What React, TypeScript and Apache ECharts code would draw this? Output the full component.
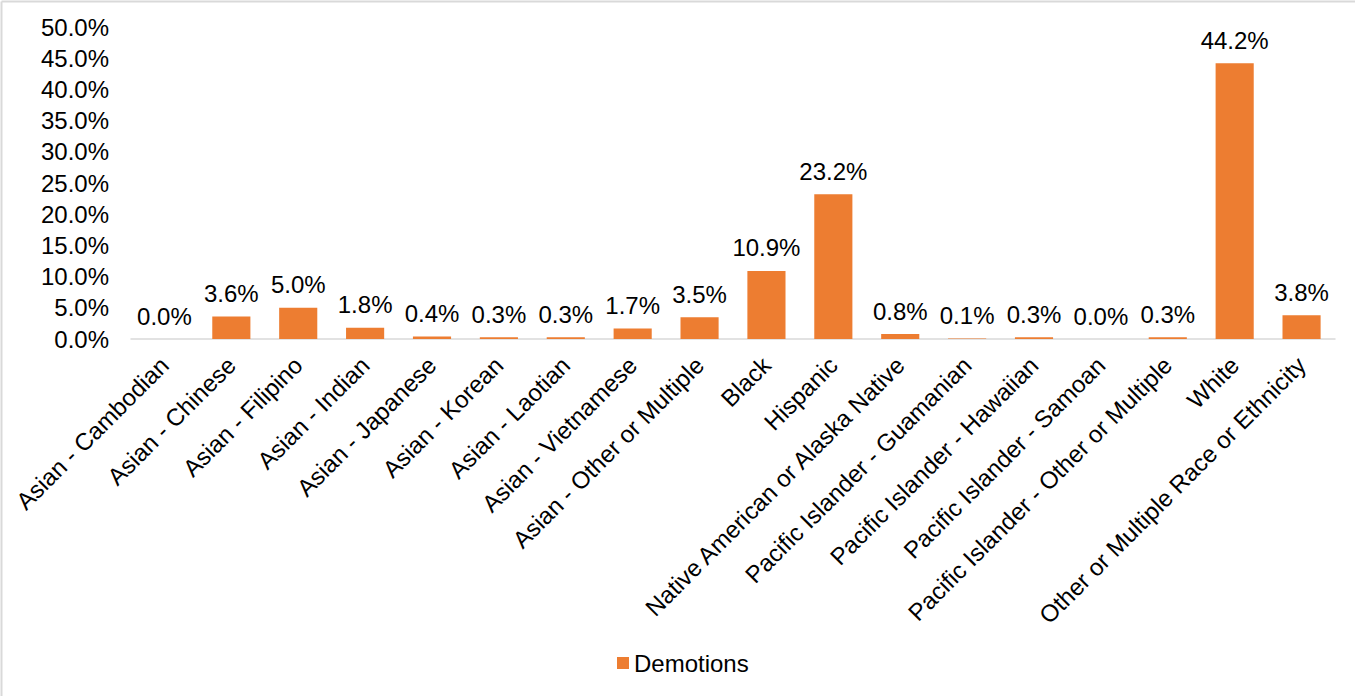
import React, { useEffect, useRef } from "react";
import * as echarts from "echarts";

const categories = [
  "Asian - Cambodian",
  "Asian - Chinese",
  "Asian - Filipino",
  "Asian - Indian",
  "Asian - Japanese",
  "Asian - Korean",
  "Asian - Laotian",
  "Asian - Vietnamese",
  "Asian - Other or Multiple",
  "Black",
  "Hispanic",
  "Native American or Alaska Native",
  "Pacific Islander - Guamanian",
  "Pacific Islander - Hawaiian",
  "Pacific Islander - Samoan",
  "Pacific Islander - Other or Multiple",
  "White",
  "Other or Multiple Race or Ethnicity",
];

const demotions = [0.0, 3.6, 5.0, 1.8, 0.4, 0.3, 0.3, 1.7, 3.5, 10.9, 23.2, 0.8, 0.1, 0.3, 0.0, 0.3, 44.2, 3.8];

const seriesName = "Demotions";
const FONT = "'Liberation Sans', Arial, sans-serif";

export default function App() {
  const ref = useRef<HTMLDivElement>(null);
  useEffect(() => {
    if (!ref.current) return;
    const chart = echarts.init(ref.current, null, { renderer: "svg" });
    chart.setOption({
      animation: false,
      backgroundColor: "#ffffff",
      textStyle: { fontFamily: FONT },
      graphic: [
        { type: "line", shape: { x1: 1.5, y1: 1.5, x2: 1355, y2: 1.5 }, style: { stroke: "#d9d9d9", lineWidth: 2 } },
        { type: "line", shape: { x1: 1.5, y1: 1.5, x2: 1.5, y2: 696 }, style: { stroke: "#d9d9d9", lineWidth: 2 } },
      ],
      grid: { left: 131, right: 20, top: 27, bottom: 357, containLabel: false },
      legend: {
        data: [seriesName],
        top: 646,
        left: 612,
        itemWidth: 12,
        itemHeight: 12,
        itemGap: 10,
        icon: "rect",
        textStyle: { fontSize: 24, color: "#000", fontFamily: FONT },
      },
      xAxis: {
        type: "category",
        data: categories,
        axisLine: { show: true, lineStyle: { color: "#d9d9d9", width: 1.5 } },
        axisTick: { show: false },
        axisLabel: {
          interval: 0,
          rotate: 45,
          fontSize: 24,
          color: "#000",
          margin: 22,
          fontFamily: FONT,
        },
      },
      yAxis: {
        type: "value",
        min: 0,
        max: 50,
        interval: 5,
        splitLine: { show: false },
        axisLine: { show: false },
        axisTick: { show: false },
        axisLabel: {
          fontSize: 24,
          color: "#000",
          margin: 22,
          fontFamily: FONT,
          formatter: (v: number) => `${v.toFixed(1)}%`,
        },
      },
      series: [
        {
          name: seriesName,
          type: "bar",
          data: demotions,
          barCategoryGap: "43%",
          itemStyle: { color: "#ED7D31" },
          label: {
            show: true,
            position: "top",
            distance: 11,
            fontSize: 24,
            color: "#000",
            fontFamily: FONT,
            formatter: (p: any) => `${Number(p.value).toFixed(1)}%`,
          },
        },
      ],
    });
    return () => chart.dispose();
  }, []);
  return (
    <div
      ref={ref}
      style={{ position: "fixed", left: 0, top: 0, width: 1355, height: 696 }}
    />
  );
}
